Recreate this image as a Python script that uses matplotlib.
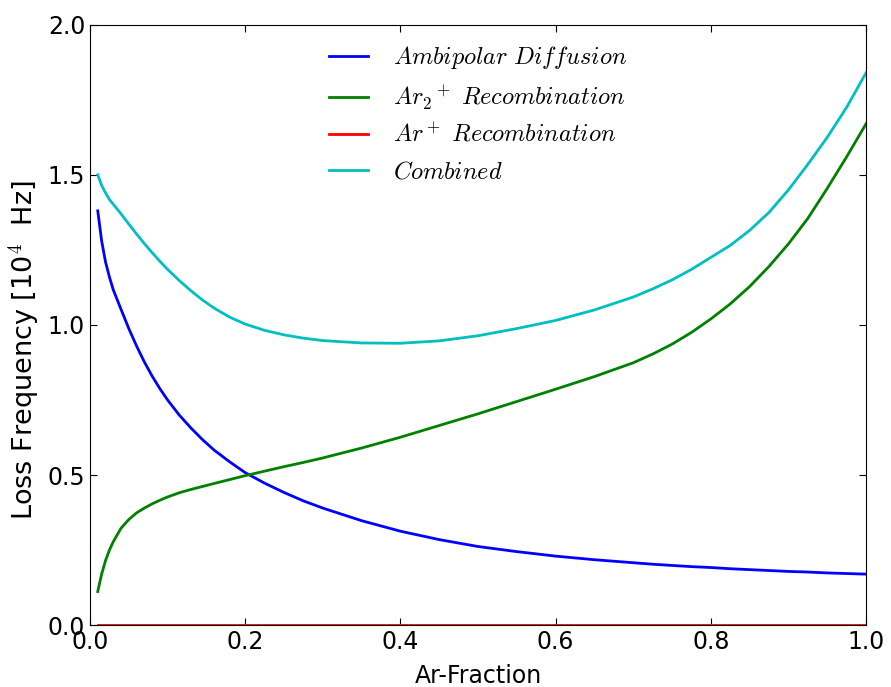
import matplotlib
matplotlib.use('Agg')
import matplotlib.pyplot as plt

plt.rcParams['mathtext.fontset'] = 'cm'
plt.rcParams['xtick.direction'] = 'in'
plt.rcParams['ytick.direction'] = 'in'
plt.rcParams['xtick.top'] = True
plt.rcParams['ytick.right'] = True
plt.rcParams['xtick.major.size'] = 5
plt.rcParams['ytick.major.size'] = 5
plt.rcParams['xtick.labelsize'] = 17
plt.rcParams['ytick.labelsize'] = 17

# Ar fraction
ar_fraction = [0.01, 0.015, 0.02, 0.025, 0.03, 0.04, 0.05, 0.06, 0.07, 0.08,
               0.09, 0.10, 0.115, 0.13, 0.145, 0.16, 0.18, 0.20, 0.225, 0.25,
               0.275, 0.30, 0.35, 0.40, 0.45, 0.50, 0.55, 0.60, 0.65, 0.70,
               0.725, 0.75, 0.775, 0.80, 0.825, 0.85, 0.875, 0.90, 0.925, 0.95,
               0.975, 1.00]

# loss frequencies [10^4 Hz]
ambipolar = [1.38, 1.28, 1.21, 1.16, 1.117, 1.052, 0.988, 0.93, 0.877, 0.830,
             0.788, 0.75, 0.70, 0.657, 0.618, 0.583, 0.544, 0.508, 0.473, 0.442,
             0.414, 0.39, 0.348, 0.313, 0.285, 0.262, 0.245, 0.230, 0.218, 0.208,
             0.203, 0.199, 0.195, 0.192, 0.188, 0.185, 0.182, 0.179, 0.177, 0.174,
             0.172, 0.170]
ar2_recomb = [0.112, 0.17, 0.215, 0.25, 0.278, 0.323, 0.352, 0.374, 0.39, 0.404,
              0.416, 0.427, 0.441, 0.452, 0.462, 0.472, 0.485, 0.498, 0.513, 0.528,
              0.542, 0.557, 0.59, 0.626, 0.665, 0.704, 0.745, 0.786, 0.828, 0.874,
              0.903, 0.936, 0.975, 1.02, 1.07, 1.128, 1.195, 1.27, 1.355, 1.455,
              1.56, 1.67]
ar_recomb = [0.0] * len(ar_fraction)
combined = [1.50, 1.465, 1.44, 1.418, 1.402, 1.37, 1.336, 1.303, 1.271, 1.241,
            1.212, 1.185, 1.148, 1.114, 1.083, 1.056, 1.026, 1.003, 0.982, 0.967,
            0.956, 0.948, 0.94, 0.939, 0.947, 0.964, 0.988, 1.015, 1.05, 1.093,
            1.12, 1.15, 1.185, 1.225, 1.265, 1.315, 1.375, 1.45, 1.535, 1.625,
            1.725, 1.84]

fig = plt.figure(figsize=(8.91, 6.87), dpi=100)
ax = fig.add_subplot(111)
fig.subplots_adjust(left=0.101, right=0.972, bottom=0.090, top=0.964)

ax.plot(ar_fraction, ambipolar, color='b', lw=2, label=r'$Ambipolar\ Diffusion$')
ax.plot(ar_fraction, ar2_recomb, color='g', lw=2, label=r'${Ar_2}^+\ Recombination$')
ax.plot(ar_fraction, ar_recomb, color='r', lw=2, label=r'$Ar^+\ Recombination$')
ax.plot(ar_fraction, combined, color='c', lw=2, label=r'$Combined$')

ax.set_xlim(0, 1)
ax.set_ylim(0, 2)
ax.set_xticks([0.0, 0.2, 0.4, 0.6, 0.8, 1.0])
ax.set_yticks([0.0, 0.5, 1.0, 1.5, 2.0])
ax.set_xlabel('Ar-Fraction', fontsize=17, labelpad=7)
ax.set_ylabel(r'Loss Frequency [10$^4$  Hz]', fontsize=19.5)
ax.yaxis.set_label_coords(-0.062, 0.458)
ax.legend(loc='upper center', frameon=False, fontsize=17.5,
          handlelength=1.6, handletextpad=1.0, labelspacing=0.5,
          borderaxespad=0.4)

fig.savefig('out.png', dpi=100)
